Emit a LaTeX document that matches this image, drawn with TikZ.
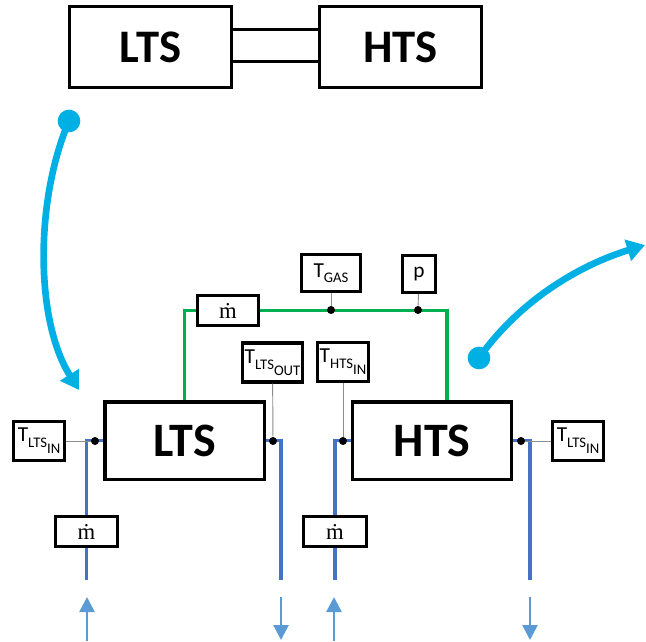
\documentclass[tikz,border=0pt]{standalone}
\usepackage{amsmath}
\usepackage[no-math]{fontspec}
\setmainfont{Carlito}
\newfontfamily\serifm{Liberation Serif}
\usepackage{xcolor}
\definecolor{Col1}{RGB}{0,176,80}
\definecolor{Col2}{RGB}{68,114,196}
\definecolor{Col3}{RGB}{91,155,213}
\definecolor{Col4}{RGB}{0,176,228}
\usepackage{tikz}
\usetikzlibrary{arrows.meta}
\newcommand{\TSub}[1]{T\raisebox{-3.8pt}{\fontsize{11}{11}\selectfont #1}}
\newcommand{\TSubSub}[2]{T\raisebox{-4.5pt}{\fontsize{11}{11}\selectfont
    #1\raisebox{-4.3pt}{#2}}}
\newcommand{\MDot}{\serifm\fontsize{17}{17}\selectfont ṁ}
\tikzstyle{Tank}=[draw,line width=2.4pt,inner sep=0pt,
font=\fontsize{36}{36}\selectfont\bfseries]
\tikzstyle{Sensor}=[draw,line width=2.6pt,fill=white,inner sep=1pt,
font=\fontsize{16}{16}\selectfont]
\tikzstyle{Dot}=[circle,fill=black,inner sep=0pt,minimum size=6pt]
\tikzstyle{Gas}=[draw=Col1,line width=2.3pt]
\tikzstyle{Water}=[draw=Col2,line width=2.3pt]
\tikzstyle{Wire}=[draw=black!45,line width=0.7pt]
\tikzstyle{Flow}=[draw=Col3,line width=2pt,
-{Triangle[width=11.25pt,length=11.25pt]}]
\tikzstyle{Jump}=[draw=Col4,line width=5pt,
-{Triangle[width=16pt,length=13.5pt]}]
\tikzstyle{Start}=[circle,fill=Col4,inner sep=0pt,minimum size=17pt]

\begin{document}
\begin{tikzpicture}[x=0.75pt,y=-0.75pt]
    \useasboundingbox (0,0) rectangle (646,642);
    % coupled storages
    \node[Tank,minimum width=121.5pt,minimum height=60.75pt,
      font=\fontsize{35}{35}\selectfont\bfseries](ltsTop)at(150.5,47){LTS};
    \node[Tank,minimum width=121.5pt,minimum height=60.75pt,
      font=\fontsize{35}{35}\selectfont\bfseries](htsTop)at(400.5,47){HTS};
    \draw[line width=2.25pt]([yshift=12.75pt]ltsTop.east)--([yshift=12.75pt]htsTop.west);
    \draw[line width=2.25pt]([yshift=-11.25pt]ltsTop.east)--([yshift=-11.25pt]htsTop.west);
    % storages with sensors
    \node[Tank,line width=2.6pt,minimum width=119.6pt,minimum height=58.1pt](lts)at(184.5,440.5){LTS};
    \node[Tank,line width=2.6pt,minimum width=119.6pt,minimum height=58.1pt](hts)at(432,440.5){HTS};
    \node[Sensor,minimum width=45.5pt,minimum height=22.3pt](mGas)at(228,310.5){\MDot};
    \node[Sensor,minimum width=44pt,minimum height=27.5pt](tGas)at(331,273){\TSub{GAS}};
    \node[Sensor,minimum width=24.5pt,minimum height=27.5pt](pGas)at(419,274){p};
    \node[Sensor,minimum width=44.8pt,minimum height=29pt](tLtsOut)at(272.5,362.5){\TSubSub{LTS}{OUT}};
    \node[Sensor,minimum width=38pt,minimum height=29pt](tHtsIn)at(343,362){\TSubSub{HTS}{IN}};
    \node[Sensor,minimum width=38pt,minimum height=29pt](tLtsIn)at(39,441){\TSubSub{LTS}{IN}};
    \node[Sensor,minimum width=38pt,minimum height=29pt](tLtsInB)at(578,441){\TSubSub{LTS}{IN}};
    \node[Sensor,minimum width=46.3pt,minimum height=22.3pt](mLts)at(86.5,531.5){\MDot};
    \node[Sensor,minimum width=47pt,minimum height=22.3pt](mHts)at(335,531.5){\MDot};
    % gas line
    \draw[Gas](lts.north)|-(mGas.west);
    \draw[Gas](mGas.east)-|([xshift=11.25pt]hts.north);
    \node[Dot](gT)at(331,310){};
    \node[Dot](gP)at(418,310){};
    \draw[Wire](tGas)--(gT);
    \draw[Wire](pGas)--(gP);
    % water lines
    \coordinate(wLtsIn)at(86.5,580);
    \coordinate(wLtsOut)at(281,580);
    \coordinate(wHtsIn)at(335,580);
    \coordinate(wHtsOut)at(530,580);
    \draw[Water](lts.west)-|(mLts.north);
    \draw[Water](mLts.south)--(wLtsIn);
    \draw[Water](lts.east)-|(wLtsOut);
    \draw[Water](hts.west)-|(mHts.north);
    \draw[Water](mHts.south)--(wHtsIn);
    \draw[Water](hts.east)-|(wHtsOut);
    \node[Dot](dLtsIn)at(95,441){};
    \node[Dot](dLtsOut)at(273,441){};
    \node[Dot](dHtsIn)at(343,441){};
    \node[Dot](dHtsOut)at(521,441){};
    \draw[Wire](tLtsIn)--(dLtsIn);
    \draw[Wire](tLtsOut)--(dLtsOut);
    \draw[Wire](tHtsIn)--(dHtsIn);
    \draw[Wire](tLtsInB)--(dHtsOut);
    % flow directions
    \foreach \n/\x/\a/\b in {1/87/641/597,2/281/597/640,3/334/641/597,4/530/597/640}{
        \coordinate(FlowA\n)at(\x,\a);
        \coordinate(FlowB\n)at(\x,\b);
        \draw[Flow](FlowA\n)--(FlowB\n);
    }
    % jumps between the two views
    \node[Start](j1)at(69,121){};
    \coordinate(j1end)at(79,390);
    \draw[Jump](j1.center)..controls(35,200)and(35,320)..(j1end);
    \node[Start](j2)at(479,358){};
    \coordinate(j2end)at(645,245);
    \draw[Jump](j2.center)..controls(520,300)and(580,265)..(j2end);
\end{tikzpicture}
\end{document}
